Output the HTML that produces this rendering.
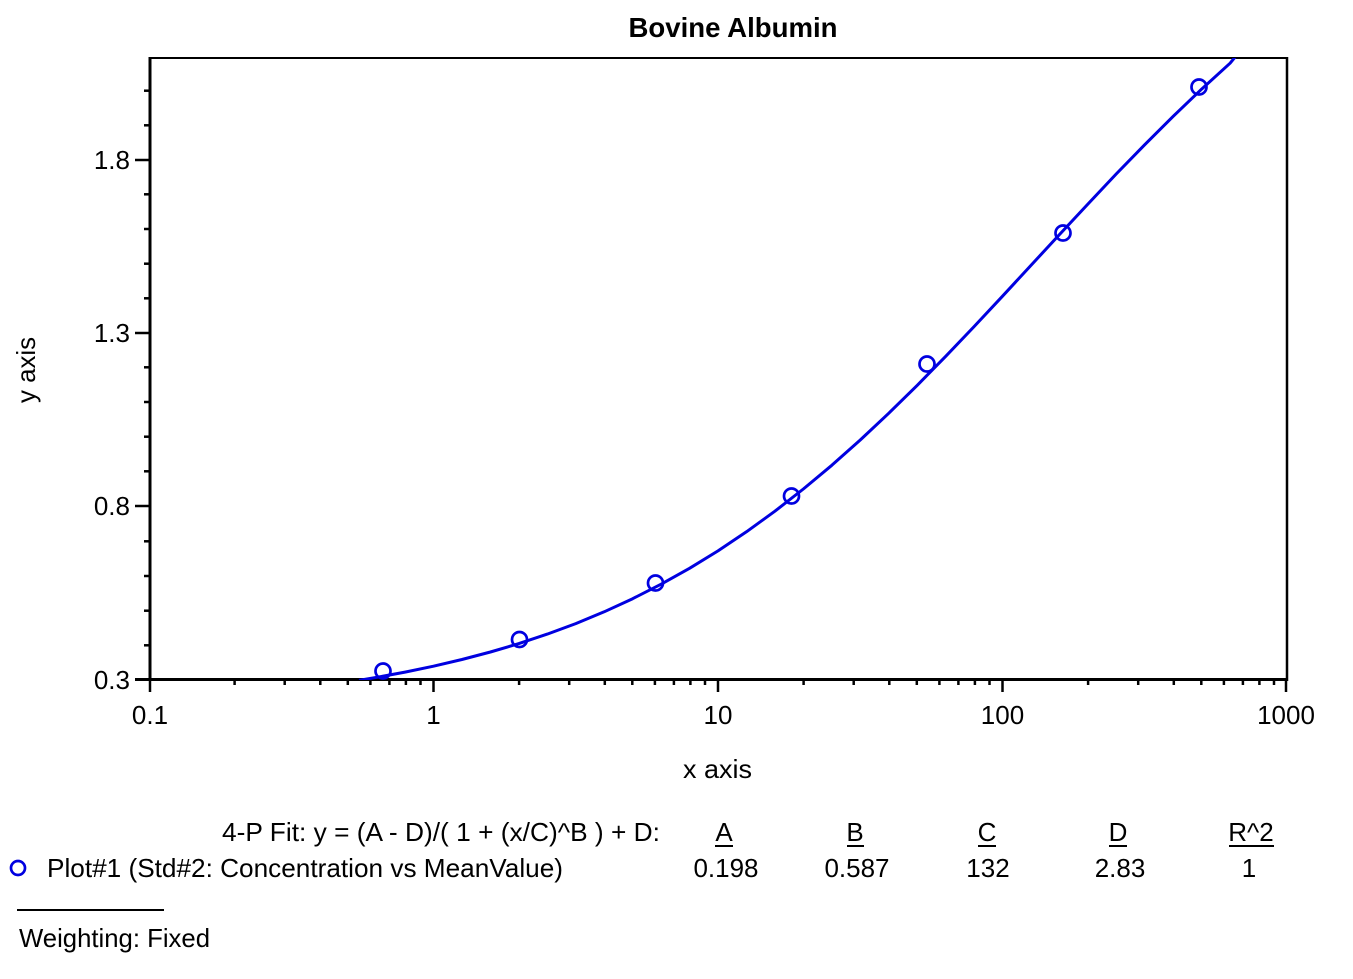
<!DOCTYPE html>
<html>
<head>
<meta charset="utf-8">
<style>
  html, body { margin:0; padding:0; background:#fff; }
  svg { display:block; }
  text { font-family: "Liberation Sans", Arial, sans-serif; fill:#000; }
</style>
</head>
<body>
<svg width="1353" height="979" viewBox="0 0 1353 979" xmlns="http://www.w3.org/2000/svg">
  <defs>
    <clipPath id="plot"><rect x="150" y="58" width="1137" height="622"/></clipPath>
  </defs>

  <!-- Title -->
  <text x="733" y="37" font-size="28" font-weight="bold" text-anchor="middle" textLength="209" lengthAdjust="spacingAndGlyphs">Bovine Albumin</text>

  <!-- Frame -->
  <line x1="149" y1="58" x2="1288" y2="58" stroke="#000" stroke-width="2"/>
  <line x1="1287" y1="57" x2="1287" y2="681" stroke="#000" stroke-width="2.5"/>
  <line x1="150" y1="57" x2="150" y2="681" stroke="#000" stroke-width="3"/>
  <line x1="135" y1="679.5" x2="1288" y2="679.5" stroke="#000" stroke-width="3"/>

  <!-- Y ticks -->
  <g stroke="#000" stroke-width="2.5">
    <line x1="135" y1="506" x2="150" y2="506"/>
    <line x1="135" y1="333" x2="150" y2="333"/>
    <line x1="135" y1="160" x2="150" y2="160"/>
    <line x1="144" y1="645.3" x2="150" y2="645.3"/>
    <line x1="144" y1="610.7" x2="150" y2="610.7"/>
    <line x1="144" y1="576" x2="150" y2="576"/>
    <line x1="144" y1="541.3" x2="150" y2="541.3"/>
    <line x1="144" y1="471.3" x2="150" y2="471.3"/>
    <line x1="144" y1="436.7" x2="150" y2="436.7"/>
    <line x1="144" y1="402" x2="150" y2="402"/>
    <line x1="144" y1="367.3" x2="150" y2="367.3"/>
    <line x1="144" y1="298.3" x2="150" y2="298.3"/>
    <line x1="144" y1="263.7" x2="150" y2="263.7"/>
    <line x1="144" y1="229" x2="150" y2="229"/>
    <line x1="144" y1="194.3" x2="150" y2="194.3"/>
    <line x1="144" y1="125.3" x2="150" y2="125.3"/>
    <line x1="144" y1="90.7" x2="150" y2="90.7"/>
  </g>
  <g font-size="26" text-anchor="end">
    <text x="130" y="689">0.3</text>
    <text x="130" y="515">0.8</text>
    <text x="130" y="342">1.3</text>
    <text x="130" y="169">1.8</text>
  </g>

  <!-- X ticks -->
  <g stroke="#000" stroke-width="2.5">
    <line x1="150" y1="679" x2="150" y2="692"/>
    <line x1="433.5" y1="679" x2="433.5" y2="692"/>
    <line x1="718" y1="679" x2="718" y2="692"/>
    <line x1="1002.5" y1="679" x2="1002.5" y2="692"/>
    <line x1="1286" y1="679" x2="1286" y2="692"/>
  </g>
  <g stroke="#000" stroke-width="2.5">
    <line x1="234.6" y1="679" x2="234.6" y2="685"/>
    <line x1="284.7" y1="679" x2="284.7" y2="685"/>
    <line x1="320.3" y1="679" x2="320.3" y2="685"/>
    <line x1="347.8" y1="679" x2="347.8" y2="685"/>
    <line x1="370.4" y1="679" x2="370.4" y2="685"/>
    <line x1="389.4" y1="679" x2="389.4" y2="685"/>
    <line x1="405.9" y1="679" x2="405.9" y2="685"/>
    <line x1="420.5" y1="679" x2="420.5" y2="685"/>
    <line x1="519.1" y1="679" x2="519.1" y2="685"/>
    <line x1="569.2" y1="679" x2="569.2" y2="685"/>
    <line x1="604.8" y1="679" x2="604.8" y2="685"/>
    <line x1="632.3" y1="679" x2="632.3" y2="685"/>
    <line x1="654.9" y1="679" x2="654.9" y2="685"/>
    <line x1="673.9" y1="679" x2="673.9" y2="685"/>
    <line x1="690.4" y1="679" x2="690.4" y2="685"/>
    <line x1="705" y1="679" x2="705" y2="685"/>
    <line x1="803.6" y1="679" x2="803.6" y2="685"/>
    <line x1="853.7" y1="679" x2="853.7" y2="685"/>
    <line x1="889.3" y1="679" x2="889.3" y2="685"/>
    <line x1="916.8" y1="679" x2="916.8" y2="685"/>
    <line x1="939.4" y1="679" x2="939.4" y2="685"/>
    <line x1="958.4" y1="679" x2="958.4" y2="685"/>
    <line x1="974.9" y1="679" x2="974.9" y2="685"/>
    <line x1="989.5" y1="679" x2="989.5" y2="685"/>
    <line x1="1088.1" y1="679" x2="1088.1" y2="685"/>
    <line x1="1138.2" y1="679" x2="1138.2" y2="685"/>
    <line x1="1173.8" y1="679" x2="1173.8" y2="685"/>
    <line x1="1201.3" y1="679" x2="1201.3" y2="685"/>
    <line x1="1223.9" y1="679" x2="1223.9" y2="685"/>
    <line x1="1242.9" y1="679" x2="1242.9" y2="685"/>
    <line x1="1259.4" y1="679" x2="1259.4" y2="685"/>
    <line x1="1274" y1="679" x2="1274" y2="685"/>
  </g>
  <g font-size="26" text-anchor="middle">
    <text x="150" y="724">0.1</text>
    <text x="433.5" y="724">1</text>
    <text x="718" y="724">10</text>
    <text x="1002.5" y="724">100</text>
    <text x="1286" y="724">1000</text>
  </g>

  <!-- Axis titles -->
  <text x="717.5" y="778" font-size="26" text-anchor="middle" textLength="69" lengthAdjust="spacingAndGlyphs">x axis</text>
  <text transform="translate(35,370) rotate(-90)" font-size="26" text-anchor="middle" textLength="66" lengthAdjust="spacingAndGlyphs">y axis</text>

  <!-- Fit curve -->
  <g clip-path="url(#plot)">
    <polyline fill="none" stroke="#0000e0" stroke-width="3" stroke-linejoin="round"
      points="359,680.3 376.6,677.4 405.05,672.1 433.5,666.2 461.95,659.5 490.4,652.0 518.85,643.6 547.3,634.1 575.75,623.6 604.2,611.8 632.65,598.7 661.1,584.2 689.55,568.3 718,550.9 746.45,531.8 774.9,511.2 803.35,489.0 831.8,465.3 860.25,440.0 888.7,413.3 917.15,385.4 945.6,356.4 974.05,326.6 1002.5,296.2 1030.95,265.4 1059.4,234.6 1087.85,204.1 1116.3,173.9 1144.75,144.7 1173.2,116.3 1201.65,89.1 1230.1,63.2 1236,56"/>
  </g>

  <!-- Data points -->
  <g fill="none" stroke="#0000e0" stroke-width="2.7">
    <circle cx="383" cy="671" r="7.5"/>
    <circle cx="519.5" cy="639.5" r="7.5"/>
    <circle cx="655.5" cy="583" r="7.5"/>
    <circle cx="791.5" cy="496" r="7.5"/>
    <circle cx="927" cy="364" r="7.5"/>
    <circle cx="1063" cy="233" r="7.5"/>
    <circle cx="1199" cy="87" r="7.5"/>
  </g>

  <!-- Legend -->
  <text x="222" y="841" font-size="26" textLength="438" lengthAdjust="spacingAndGlyphs">4-P Fit: y = (A - D)/( 1 + (x/C)^B ) + D:</text>
  <g font-size="26" text-anchor="middle">
    <text x="724" y="841">A</text>
    <text x="855" y="841">B</text>
    <text x="987" y="841">C</text>
    <text x="1118" y="841">D</text>
    <text x="1251" y="841">R^2</text>
  </g>
  <g stroke="#000" stroke-width="2">
    <line x1="715" y1="846" x2="733" y2="846"/>
    <line x1="847" y1="846" x2="864" y2="846"/>
    <line x1="978" y1="846" x2="996" y2="846"/>
    <line x1="1109" y1="846" x2="1127" y2="846"/>
    <line x1="1229" y1="846" x2="1274" y2="846"/>
  </g>

  <circle cx="18" cy="868" r="7" fill="none" stroke="#0000e0" stroke-width="2.7"/>
  <text x="47" y="877" font-size="26" textLength="516" lengthAdjust="spacingAndGlyphs">Plot#1 (Std#2: Concentration vs MeanValue)</text>
  <g font-size="26" text-anchor="middle">
    <text x="726" y="877">0.198</text>
    <text x="857" y="877">0.587</text>
    <text x="988" y="877">132</text>
    <text x="1120" y="877">2.83</text>
    <text x="1249" y="877">1</text>
  </g>

  <line x1="17" y1="910" x2="164" y2="910" stroke="#000" stroke-width="2"/>
  <text x="19" y="947" font-size="26" textLength="191" lengthAdjust="spacingAndGlyphs">Weighting: Fixed</text>
</svg>
</body>
</html>
